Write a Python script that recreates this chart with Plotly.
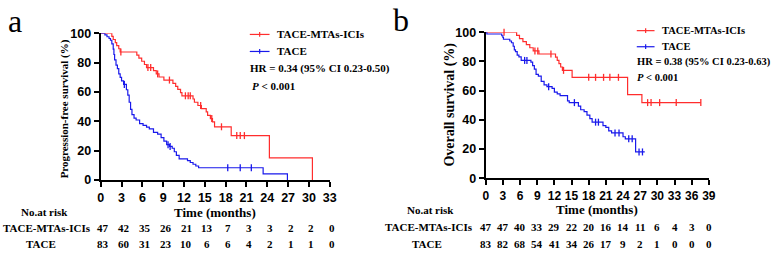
import numpy as np
import plotly.graph_objects as go

# ---------------- data ----------------
# Panel a: progression-free survival
pfs_red_t = [0, 1.6, 1.8, 2.1, 2.3, 2.6, 2.8, 5.2, 5.5, 5.9, 6.3, 6.6, 7.6, 8.0, 8.4, 9.1,
             10.4, 10.8, 11.1, 11.5, 11.7, 13.3, 13.5, 14.0, 14.5, 15.2, 15.4, 15.8, 16.1,
             16.4, 18.8, 24.3, 30.5]
pfs_red_s = [100, 97.9, 95.7, 93.6, 91.5, 89.4, 87.2, 85.1, 83.0, 80.9, 78.7, 76.6, 74.5,
             72.3, 70.2, 68.1, 65.9, 63.8, 61.7, 59.6, 57.4, 55.2, 53.0, 50.8, 48.6, 46.4,
             44.1, 41.9, 39.7, 36.3, 30.3, 15.2, 0]
pfs_red_end = 30.5
pfs_red_cens = [2.9, 6.8, 7.2, 8.2, 9.9, 12.2, 12.6, 12.9, 14.4, 16.0, 17.4, 19.6, 20.1, 20.7]

pfs_blue_t = [0, 0.6, 0.9, 1.2, 1.4, 1.6, 1.8, 1.9, 2.0, 2.2, 2.4, 2.6, 2.8, 3.0, 3.3, 3.7,
              3.9, 4.1, 4.3, 4.5, 4.8, 5.1, 5.6, 6.1, 6.6, 7.0, 7.6, 8.2, 8.7, 9.1, 9.5, 9.9,
              10.3, 10.6, 10.9, 11.3, 12.5, 12.9, 13.3, 13.7, 14.1, 23.4, 26.9]
pfs_blue_s = [100, 98.8, 97.6, 96.4, 95.2, 92.8, 89.2, 85.5, 81.9, 78.3, 75.9, 72.3, 69.9,
              67.5, 65.1, 61.5, 57.8, 53.0, 48.2, 44.6, 42.2, 40.9, 38.5, 37.3, 36.1, 34.9,
              32.5, 31.3, 28.9, 26.5, 24.1, 22.9, 21.7, 19.3, 16.9, 14.5, 13.3, 12.0, 10.8,
              9.6, 8.4, 4.2, 0]
pfs_blue_end = 26.9
pfs_blue_cens = [3.4, 9.7, 10.0, 18.3, 20.1, 21.7]

# Panel b: overall survival
os_red_t = [0, 5.4, 5.9, 6.5, 7.1, 7.7, 8.3, 9.3, 12.2, 12.5, 12.8, 13.1, 13.4, 15.1, 24.8, 27.3]
os_red_s = [100, 97.9, 95.7, 93.6, 91.5, 89.4, 87.2, 85.1, 82.9, 80.7, 78.5, 76.2, 73.9,
            69.1, 57.3, 51.8]
os_red_end = 37.6
os_red_cens = [3.2, 8.6, 9.1, 11.4, 13.6, 18.0, 19.2, 20.6, 21.7, 23.2, 28.3, 28.9, 30.4,
               33.3, 37.6]

os_blue_t = [0, 0.2, 2.8, 3.0, 3.1, 4.2, 4.5, 4.8, 5.0, 5.2, 5.5, 5.8, 6.2, 7.9, 8.2, 8.5,
             8.8, 9.2, 9.7, 10.2, 10.7, 11.6, 12.0, 12.5, 13.0, 14.3, 14.6, 16.2, 16.6, 17.2,
             17.7, 18.2, 18.6, 20.5, 21.0, 21.5, 22.0, 24.0, 24.4, 26.2]
os_blue_s = [100, 98.8, 97.6, 96.4, 95.2, 94.0, 92.8, 90.4, 88.0, 86.7, 84.3, 83.1, 80.7,
             79.5, 77.1, 74.7, 71.1, 69.9, 66.3, 63.9, 62.7, 61.5, 59.0, 57.8, 56.6, 53.0,
             51.8, 49.4, 46.9, 45.6, 43.2, 40.8, 38.4, 36.0, 34.8, 32.4, 31.0, 28.4, 27.0,
             18.0]
os_blue_end = 27.8
os_blue_cens = [6.8, 7.2, 11.0, 15.5, 19.2, 19.7, 22.6, 23.3, 25.0, 25.6, 26.8, 27.4]

# Numbers at risk
risk_a_times = [0, 3, 6, 9, 12, 15, 18, 21, 24, 27, 30, 33]
risk_a_red = [47, 42, 35, 26, 21, 13, 7, 3, 3, 2, 2, 0]
risk_a_blue = [83, 60, 31, 23, 10, 6, 6, 4, 2, 1, 1, 0]
risk_b_times = [0, 3, 6, 9, 12, 15, 18, 21, 24, 27, 30, 33, 36, 39]
risk_b_red = [47, 47, 40, 33, 29, 22, 20, 16, 14, 11, 6, 4, 3, 0]
risk_b_blue = [83, 82, 68, 54, 41, 34, 26, 17, 9, 2, 1, 0, 0, 0]

y_ticks = [0, 20, 40, 60, 80, 100]
group_names = ["TACE-MTAs-ICIs", "TACE"]
hr_text_a = "HR = 0.34 (95% CI 0.23-0.50)"
hr_text_b = "HR = 0.38 (95% CI 0.23-0.63)"
p_text = "<i>P</i> &lt; 0.001"

# ---------------- styling ----------------
W, H = 780, 259
RED = "rgb(255,45,45)"
BLUE = "rgb(25,25,235)"
SERIF = "Liberation Serif, Times New Roman, serif"
SANS = "Liberation Sans, Arial, sans-serif"


def px(x):
    return x / W


def py(y):
    return 1 - y / H


def step_value(ts, ss, t):
    ts = np.asarray(ts)
    idx = np.searchsorted(ts, t, side="right") - 1
    return ss[max(idx, 0)]


fig = go.Figure()


def add_curve(ts, ss, end, cens, color, xa, ya):
    xs = list(ts)
    ys = list(ss)
    if end > xs[-1]:
        xs.append(end)
        ys.append(ys[-1])
    fig.add_trace(go.Scatter(x=xs, y=ys, mode="lines", line=dict(color=color, width=1.2, shape="hv"),
                             xaxis=xa, yaxis=ya, cliponaxis=False, showlegend=False, hoverinfo="skip"))
    cy = [step_value(ts, ss, c) for c in cens]
    fig.add_trace(go.Scatter(x=cens, y=cy, mode="markers",
                             marker=dict(symbol="line-ns-open", size=5, color=color,
                                         line=dict(color=color, width=1.3)),
                             xaxis=xa, yaxis=ya, cliponaxis=False, showlegend=False, hoverinfo="skip"))


add_curve(pfs_red_t, pfs_red_s, pfs_red_end, pfs_red_cens, RED, "x", "y")
add_curve(pfs_blue_t, pfs_blue_s, pfs_blue_end, pfs_blue_cens, BLUE, "x", "y")
add_curve(os_red_t, os_red_s, os_red_end, os_red_cens, RED, "x2", "y2")
add_curve(os_blue_t, os_blue_s, os_blue_end, os_blue_cens, BLUE, "x2", "y2")


def bold(vals):
    return ["<b>%s</b>" % v for v in vals]


axis_common = dict(showline=True, linecolor="black", linewidth=2, ticks="outside", ticklen=5,
                   tickwidth=1.6, tickcolor="black", showgrid=False, zeroline=False)

XA_DOM = [px(99), px(331)]
XB_DOM = [px(489), px(715)]
XA_RANGE = [0, 33]
XB_RANGE = [0, 39]

layout = dict(
    width=W, height=H, margin=dict(l=0, r=0, t=0, b=0),
    paper_bgcolor="white", plot_bgcolor="white",
    xaxis=dict(domain=XA_DOM, range=XA_RANGE, tickvals=risk_a_times, ticktext=bold(risk_a_times),
               tickfont=dict(family=SANS, size=12.5, color="black"), anchor="y", **axis_common),
    yaxis=dict(domain=[py(183), py(27.7)], range=[0, 100], tickvals=y_ticks, ticktext=bold(y_ticks),
               tickfont=dict(family=SANS, size=12.5, color="black"), anchor="x", **axis_common),
    xaxis2=dict(domain=XB_DOM, range=XB_RANGE, tickvals=risk_b_times, ticktext=bold(risk_b_times),
                tickfont=dict(family=SANS, size=12, color="black"), anchor="y2", **axis_common),
    yaxis2=dict(domain=[py(181), py(26.7)], range=[0, 100], tickvals=y_ticks, ticktext=bold(y_ticks),
                tickfont=dict(family=SANS, size=12.5, color="black"), anchor="x2", **axis_common),
)

ann = []


def text(x, y, s, size=11, anchor="left", family=SERIF, weight="bold", angle=0):
    ann.append(dict(x=x, y=y, xref="paper", yref="paper", text=s, showarrow=False, xanchor=anchor,
                    yanchor="middle", textangle=angle,
                    font=dict(family=family, size=size, color="black", weight=weight)))


def data_to_paper(t, dom, rng):
    return dom[0] + (t - rng[0]) / (rng[1] - rng[0]) * (dom[1] - dom[0])


# panel labels
text(px(3), py(15), "a", size=32, weight="normal")
text(px(393), py(14), "b", size=32, weight="normal")

# y titles
text(px(62), py(108), "<b>Progression-free survival (%)</b>", size=11, anchor="center", angle=-90)
text(px(453), py(103), "<b>Overall survival (%)</b>", size=14, anchor="center", angle=-90)

# x titles
text(px(215), py(217), "<b>Time (months)</b>", size=13, anchor="center")
text(px(602), py(214), "<b>Time (months)</b>", size=13, anchor="center")

# legends and stats
text(px(276), py(29), "<b>%s</b>" % group_names[0], size=11)
text(px(276), py(47), "<b>%s</b>" % group_names[1], size=11)
text(px(248), py(65), "<b>%s</b>" % hr_text_a, size=11)
text(px(250), py(83), "<b>%s</b>" % p_text, size=11)

text(px(666), py(25), "<b>%s</b>" % group_names[0], size=10.5)
text(px(666), py(42), "<b>%s</b>" % group_names[1], size=10.5)
text(px(640), py(58), "<b>%s</b>" % hr_text_b, size=10.5)
text(px(640), py(75), "<b>%s</b>" % p_text, size=10.5)

# risk table
text(px(42), py(217), "<b>No.at risk</b>", size=11, anchor="center")
text(px(45), py(234), "<b>%s</b>" % group_names[0], size=11, anchor="center")
text(px(38), py(251), "<b>%s</b>" % group_names[1], size=11, anchor="center")
text(px(433), py(215), "<b>No.at risk</b>", size=11, anchor="center")
text(px(432), py(233), "<b>%s</b>" % group_names[0], size=11, anchor="center")
text(px(429), py(251), "<b>%s</b>" % group_names[1], size=11, anchor="center")

for t, r, b in zip(risk_a_times, risk_a_red, risk_a_blue):
    xp = data_to_paper(t + 0.35, XA_DOM, XA_RANGE)
    text(xp, py(234), "<b>%d</b>" % r, size=11, anchor="center")
    text(xp, py(251), "<b>%d</b>" % b, size=11, anchor="center")
for t, r, b in zip(risk_b_times, risk_b_red, risk_b_blue):
    xp = data_to_paper(t, XB_DOM, XB_RANGE)
    text(xp, py(233), "<b>%d</b>" % r, size=11, anchor="center")
    text(xp, py(251), "<b>%d</b>" % b, size=11, anchor="center")

layout["annotations"] = ann

# legend line samples
shapes = []
for (x0, x1, y, c) in [(250, 270, 29, RED), (250, 270, 47, BLUE), (642, 660, 25, RED), (642, 660, 42, BLUE)]:
    shapes.append(dict(type="line", xref="paper", yref="paper", x0=px(x0), x1=px(x1), y0=py(y), y1=py(y),
                       line=dict(color=c, width=1.2)))
    xm = (x0 + x1) / 2
    shapes.append(dict(type="line", xref="paper", yref="paper", x0=px(xm), x1=px(xm), y0=py(y - 2.5),
                       y1=py(y + 2.5), line=dict(color=c, width=1.2)))
layout["shapes"] = shapes

fig.update_layout(**layout)
fig.write_html("out.html", config={"displayModeBar": False},
               post_script="document.body.style.margin='0px';document.body.style.overflow='hidden';")
